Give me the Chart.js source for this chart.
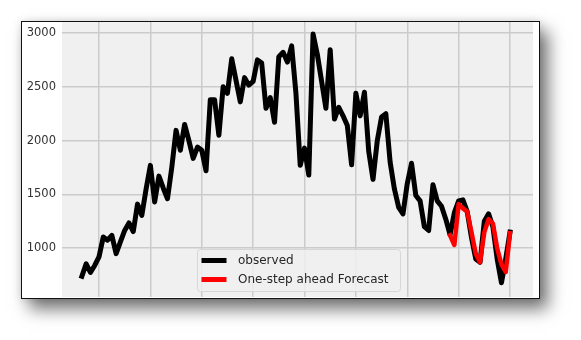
<!DOCTYPE html>
<html>
<head>
<meta charset="utf-8">
<script src="https://cdn.jsdelivr.net/npm/chart.js@4"></script>
<style>
  body { margin: 0; background: #fff; }
  #frame {
    position: absolute; left: 21px; top: 21px;
    width: 517px; height: 276px;
    border: 1px solid #111;
    background: #fff;
    box-shadow: 0 0 8px rgba(0,0,0,0.12), 8px 10px 16px rgba(0,0,0,0.55);
  }
</style>
</head>
<body>
<div id="frame"><canvas id="chart" width="517" height="276"></canvas></div>
<script>
// observed series, one value per step
const observed = [
  740, 855, 775, 840, 920, 1105, 1075, 1120, 950, 1060,
  1165, 1235, 1155, 1410, 1305, 1550, 1770, 1430, 1670, 1560,
  1460, 1750, 2095, 1910, 2150, 2000, 1835, 1940, 1910, 1720,
  2380, 2380, 2050, 2500, 2440, 2760, 2560, 2360, 2585, 2515,
  2550, 2750, 2720, 2300, 2400, 2170, 2780, 2820, 2730, 2880,
  2440, 1770, 1930, 1680, 2990, 2800, 2550, 2300, 2845, 2200,
  2310, 2230, 2140, 1775, 2440, 2230, 2450, 1900, 1640, 2000,
  2220, 2250, 1800, 1550, 1380, 1320, 1600, 1790, 1490, 1440,
  1200, 1165, 1590, 1440, 1390, 1270, 1125, 1330, 1440, 1450,
  1340, 1100, 900, 870, 1250, 1320, 1200, 900, 680, 900,
  1150
];
// one-step ahead forecast, starts at step 86
const forecastStart = 86;
const forecast = [
  1120, 1030, 1410, 1370, 1340, 1150, 950, 870, 1150, 1270,
  1230, 1000, 850, 780, 1140
];
const xGrid = [4, 16, 28, 40, 52, 64, 76, 88, 100];
const yTicks = [1000, 1500, 2000, 2500, 3000];

const observedPoints = observed.map((v, i) => ({ x: i, y: v }));
const forecastPoints = forecast.map((v, i) => ({ x: forecastStart + i, y: v }));

// grey plot background like the fivethirtyeight style
const plotBackground = {
  id: 'plotBackground',
  beforeDraw(chart) {
    const { ctx, chartArea: a } = chart;
    ctx.save();
    ctx.fillStyle = '#f0f0f0';
    ctx.fillRect(a.left, a.top, a.right - a.left, a.bottom - a.top);
    ctx.restore();
  }
};

// legend box at the lower centre of the plot
const innerLegend = {
  id: 'innerLegend',
  afterDraw(chart) {
    const { ctx, chartArea: a } = chart;
    const w = 203, h = 42;
    const left = (a.left + a.right) / 2 - w / 2 + 1.5;
    const top = a.bottom - 5.5 - h;
    ctx.save();
    ctx.beginPath();
    ctx.roundRect(left, top, w, h, 3);
    ctx.fillStyle = 'rgba(240,240,240,0.85)';
    ctx.fill();
    ctx.strokeStyle = '#d6d6d6';
    ctx.lineWidth = 1;
    ctx.stroke();
    ctx.font = '12px "DejaVu Sans"';
    ctx.textBaseline = 'middle';
    chart.data.datasets.forEach((ds, k) => {
      const y = top + 11 + k * 19;
      ctx.strokeStyle = ds.borderColor;
      ctx.lineWidth = 5;
      ctx.beginPath();
      ctx.moveTo(left + 4, y);
      ctx.lineTo(left + 29, y);
      ctx.stroke();
      ctx.fillStyle = '#262626';
      ctx.fillText(ds.label, left + 40.5, y + 0.5);
    });
    ctx.restore();
  }
};

function noPadding(s) {
  s.paddingTop = 0;
  s.paddingBottom = 0;
  s.paddingLeft = 0;
  s.paddingRight = 0;
}

new Chart(document.getElementById('chart'), {
  type: 'line',
  data: {
    datasets: [
      {
        label: 'observed',
        data: observedPoints,
        borderColor: '#000000',
        borderWidth: 5,
        pointRadius: 0,
        borderJoinStyle: 'round',
        borderCapStyle: 'square',
        order: 1
      },
      {
        label: 'One-step ahead Forecast',
        data: forecastPoints,
        borderColor: '#ff0000',
        borderWidth: 4.5,
        pointRadius: 0,
        borderJoinStyle: 'round',
        borderCapStyle: 'square',
        order: 0
      }
    ]
  },
  options: {
    responsive: false,
    animation: false,
    layout: { padding: { left: 0, right: 6, top: 0, bottom: 1 } },
    plugins: { legend: { display: false }, tooltip: { enabled: false } },
    scales: {
      x: {
        type: 'linear',
        min: -4.64,
        max: 105.37,
        afterBuildTicks: s => { s.ticks = xGrid.map(v => ({ value: v })); },
        afterFit: s => { s.height = 0; noPadding(s); },
        ticks: { display: false },
        grid: { color: '#cbcbcb', lineWidth: 1.5, drawTicks: false },
        border: { display: false }
      },
      y: {
        min: 547,
        max: 3102,
        afterBuildTicks: s => { s.ticks = yTicks.map(v => ({ value: v })); },
        afterFit: s => { s.width = 40; noPadding(s); },
        ticks: {
          padding: 6,
          color: '#333333',
          font: { family: 'DejaVu Sans', size: 11.5 },
          callback: v => String(v)
        },
        grid: { color: '#cbcbcb', lineWidth: 1.5, drawTicks: false },
        border: { display: false }
      }
    }
  },
  plugins: [plotBackground, innerLegend]
});
</script>
</body>
</html>
